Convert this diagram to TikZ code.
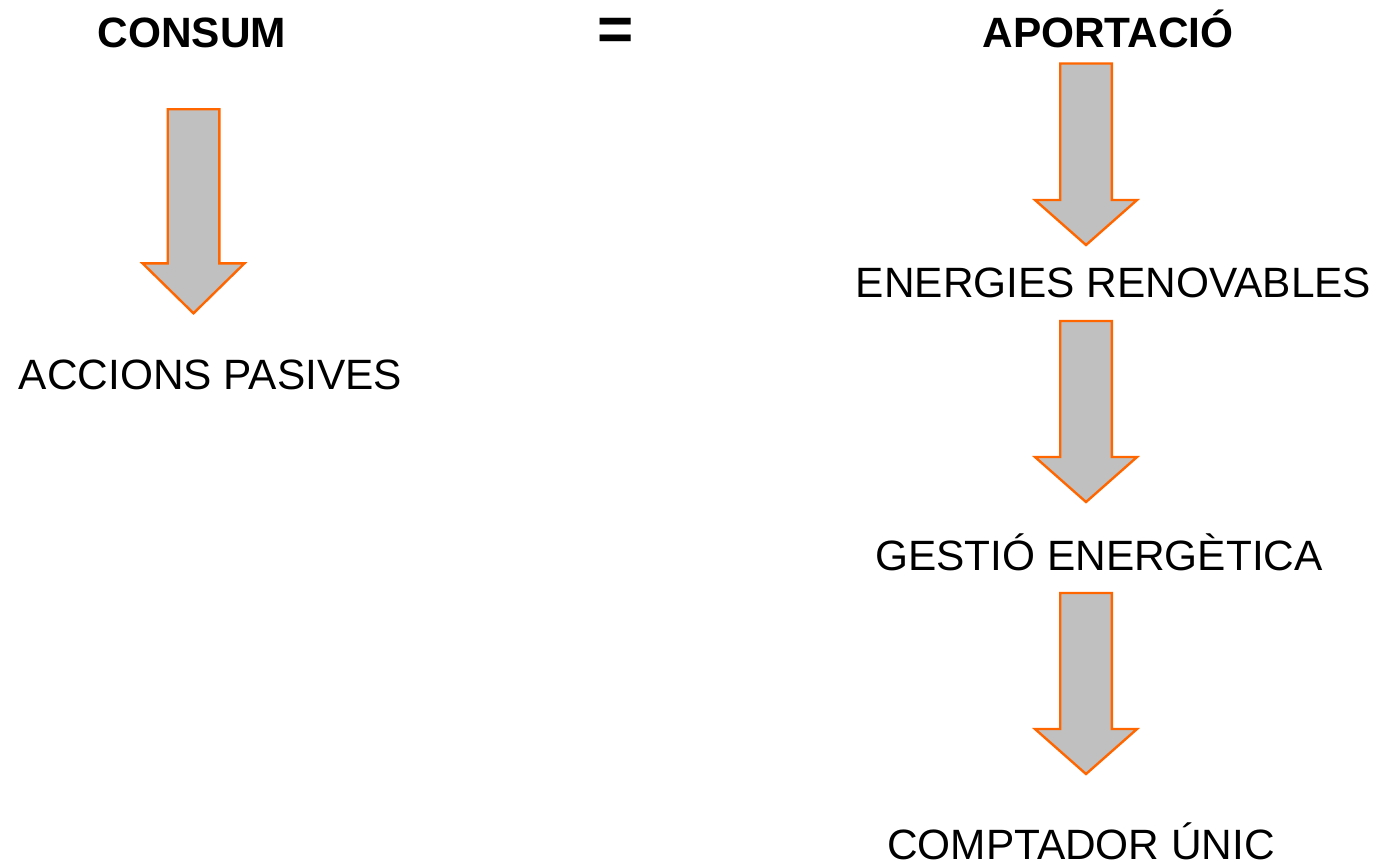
\documentclass[tikz,border=0pt]{standalone}
\usepackage{fontspec}
\setmainfont{Liberation Sans}
\usetikzlibrary{positioning}

\definecolor{arrowgray}{RGB}{192,192,192}
\definecolor{arroworange}{RGB}{255,102,0}

\tikzset{
  title/.style={anchor=base, inner sep=0pt, font=\fontsize{21.2}{25}\selectfont\bfseries},
  label/.style={anchor=base, inner sep=0pt, font=\fontsize{21.2}{25}\selectfont},
  bigarrow/.style={fill=arrowgray, draw=arroworange, line width=1.2pt, line join=miter}
}

% x, shaft top, head base, tip
\newcommand{\blockarrow}[4]{%
  \draw[bigarrow] (#1-25.8,#2) -- (#1+25.8,#2) -- (#1+25.8,#3) -- (#1+51,#3)
    -- (#1,#4) -- (#1-51,#3) -- (#1-25.8,#3) -- cycle;}

\begin{document}
\begin{tikzpicture}[x=0.5pt, y=-0.5pt]
\useasboundingbox (0,0) rectangle (1384,861);

\node (consum) at (192,47.5) [title] {CONSUM};
\node (equal) at (616,51) [title, font=\fontsize{31}{35}\selectfont\bfseries] {=};
\node (aportacio) at (1108,47.5) [title] {APORTACIÓ};

\node (passives) at (210.5,389) [label] {ACCIONS PASIVES};
\node (renovables) at (1113.5,297) [label] {ENERGIES RENOVABLES};
\node (gestio) at (1099,570) [label] {GESTIÓ ENERGÈTICA};
\node (comptador) at (1081,859) [label] {COMPTADOR ÚNIC};

\blockarrow{193.5}{109.3}{263.3}{313.3}
\blockarrow{1086}{63.5}{200}{245}
\blockarrow{1086}{321}{457}{502}
\blockarrow{1086}{593}{729}{774}

\end{tikzpicture}
\end{document}
